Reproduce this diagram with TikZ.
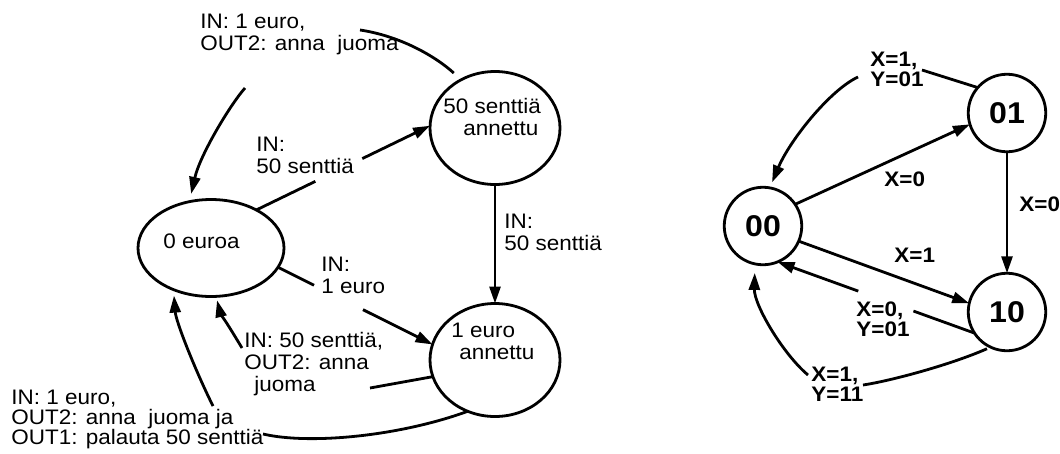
\documentclass[tikz,border=0pt]{standalone}
\usepackage{fontspec}
\setmainfont{Liberation Sans}[FakeStretch=1.07]
\usetikzlibrary{arrows.meta,shapes.geometric,calc}

\begin{document}
\begin{tikzpicture}[x=1pt,y=-1pt,
  line width=2.8pt,
  state/.style={draw, ellipse, inner sep=0pt, outer sep=0pt,
                minimum width=130pt, minimum height=113pt},
  bit/.style={draw, circle, inner sep=0pt, outer sep=0pt, minimum size=77.5pt,
              font=\fontsize{30}{31}\selectfont\bfseries},
  txt/.style={anchor=north west, inner sep=0pt, align=left,
              font=\fontsize{21}{22}\selectfont},
  btxt/.style={anchor=north west, inner sep=0pt, align=left,
               font=\fontsize{21}{20}\selectfont\bfseries},
  arr/.style={-{Triangle[length=17pt,width=11pt]}},
]
\useasboundingbox (0,0) rectangle (1060,453);

% ---------- vending machine states ----------
\node[state, minimum width=146pt, minimum height=97pt] (e0) at (211,248) {};
\node[state] (s50) at (495,128) {};
\node[state] (e1) at (495,360) {};

\node[txt] (t0) at (162,232) {0 euroa};
\node[txt] (t50) at (442,97) {50 senttiä\\\hspace*{20pt}annettu};
\node[txt] (t1) at (450,322) {1 euro\\\hspace*{8pt}annettu};

% 0 euroa -> 50 senttiä annettu
\draw (e0.40) -- ($(e0.40)!0.34!(s50.178)$);
\draw[arr] ($(e0.40)!0.61!(s50.178)$) -- (s50.178);

% 50 senttiä annettu -> 1 euro annettu
\draw[arr] (s50.south) -- (e1.north);

% 0 euroa -> 1 euro annettu
\draw (e0.-16) -- ($(e0.-16)!0.233!(e1.166)$);
\draw[arr] ($(e0.-16)!0.55!(e1.166)$) -- (e1.166);

% 1 euro annettu -> 0 euroa (50 senttiä in)
\coordinate (g4a) at (370,388);
\coordinate (g4b) at (242,348);
\draw (e1.195) -- (g4a);
\draw[arr, shorten >=4pt] (g4b) .. controls (230,328) and (220,312) .. (e0.-84);

% 1 euro annettu -> 0 euroa (1 euro in, change returned)
\coordinate (g5a) at (263,434);
\coordinate (g5b) at (213,406);
\draw (e1.-118) .. controls (400,436) and (310,445) .. (g5a);
\draw[arr, shorten >=6pt] (g5b) .. controls (196,372) and (176,322) .. (e0.-132);

% 50 senttiä annettu -> 0 euroa (1 euro in)
\coordinate (g6a) at (360,30);
\coordinate (g6b) at (245,88);
\draw[shorten <=10pt] (s50.125) .. controls (435,56) and (400,36) .. (g6a);
\draw[arr, shorten >=8pt] (g6b) .. controls (230,105) and (200,155) .. (e0.115);

\node[txt] (l1) at (199,13) {IN: 1 euro,\\OUT2: anna\ \ juoma};
\node[txt] (l2) at (255,136) {IN:\\50 senttiä};
\node[txt] (l3) at (503,213) {IN:\\50 senttiä};
\node[txt] (l4) at (320,256) {IN:\\1 euro};
\node[txt] (l5) at (243,331) {IN: 50 senttiä,\\OUT2: anna\\\hspace*{10pt}juoma};
\node[txt, font=\fontsize{21}{20}\selectfont] (l6) at (10,389)
  {IN: 1 euro,\\OUT2: anna\ \ juoma ja\\OUT1: palauta 50 senttiä};

% ---------- two-bit state machine ----------
\node[bit] (n00) at (763,226) {00};
\node[bit] (n01) at (1007,113) {01};
\node[bit] (n10) at (1007,312) {10};

% 00 -> 01
\draw[arr] (n00.34) -- (n01.197);

% 01 -> 00
\coordinate (h2a) at (922,70);
\coordinate (h2b) at (858,77);
\draw (n01.139) -- (h2a);
\draw[arr, shorten >=6pt] (h2b) .. controls (830,90) and (790,140) .. (n00.80);

% 01 -> 10
\draw[arr] (n01.south) -- (n10.north);

% 00 -> 10
\draw[arr] (n00.-23) -- (n10.167);

% 10 -> 00 (X=0)
\draw (n10.213) -- ($(n10.213)!0.31!(n00.-68)$);
\draw[arr] ($(n10.213)!0.59!(n00.-68)$) -- (n00.-68);

% 10 -> 00 (X=1)
\coordinate (h6a) at (863,385);
\coordinate (h6b) at (808,375);
\draw[shorten <=4pt] (n10.-115) .. controls (950,365) and (890,381) .. (h6a);
\draw[arr, shorten >=9pt] (h6b) .. controls (783,354) and (754,305) .. (n00.-102);

\node[btxt] (x1) at (869,51) {X=1,\\Y=01};
\node[btxt] (x2) at (883,170) {X=0};
\node[btxt] (x3) at (1018,195) {X=0};
\node[btxt] (x4) at (893,247) {X=1};
\node[btxt] (x5) at (855,300) {X=0,\\Y=01};
\node[btxt] (x6) at (810,366) {X=1,\\Y=11};
\end{tikzpicture}
\end{document}
